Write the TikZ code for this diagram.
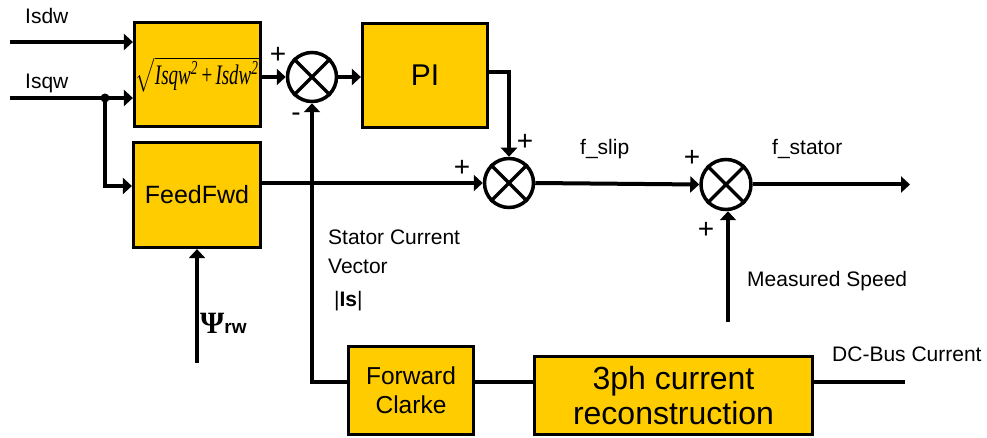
\documentclass[tikz,border=0pt]{standalone}
\usepackage{fontspec}
\usepackage{graphicx}
\setmainfont{Liberation Sans}
\newfontfamily\tms{Liberation Serif}
\usetikzlibrary{arrows.meta,calc}
\definecolor{boxyellow}{RGB}{255,204,0}
\tikzset{
  blk/.style={draw=black,fill=boxyellow,line width=3.2pt,inner sep=0pt,align=center},
  sumnode/.style={draw=black,fill=white,circle,line width=3.5pt,inner sep=0pt},
  arr/.style={line width=4pt,-{Triangle[length=9pt,width=16pt]}},
  thinwire/.style={line width=3.2pt},
  lbl/.style={inner sep=0pt,anchor=base west,font=\fontsize{21}{25}\selectfont},
  sgn/.style={inner sep=0pt,anchor=center,font=\fontsize{28}{30}\selectfont}
}
\newcommand{\crossit}[1]{\draw[line width=3.2pt] (#1.45) -- (#1.225) (#1.135) -- (#1.315);}
\begin{document}
\begin{tikzpicture}[x=1pt,y=-1pt]
\useasboundingbox[fill=white] (0,0) rectangle (987,438);
% blocks
\node[blk,minimum width=126pt,minimum height=104pt] (sq) at (197.5,74.5)
  {\raisebox{-3pt}{\resizebox{123pt}{28pt}{$\sqrt{\mbox{\tms\itshape Isqw\textsuperscript{2}\,\upshape+\,\itshape Isdw\textsuperscript{2}}}$}}};
\node[blk,minimum width=127pt,minimum height=105pt,font=\fontsize{25}{29}\selectfont] (ff) at (197,195) {FeedFwd};
\node[blk,minimum width=125pt,minimum height=104pt,font=\fontsize{30}{34}\selectfont] (pi) at (425,75.5) {PI};
\node[blk,minimum width=125pt,minimum height=88pt,font=\fontsize{24.5}{29}\selectfont] (cl) at (411,390.5) {Forward\\Clarke};
\node[blk,minimum width=278pt,minimum height=78pt,font=\fontsize{32}{35}\selectfont] (th) at (673.5,395.5) {3ph current\\reconstruction};
% summing junctions
\node[sumnode,minimum size=49pt] (s1) at (312,77) {};
\node[sumnode,minimum size=49pt] (s2) at (509,183) {};
\node[sumnode,minimum size=50pt] (s3) at (726,184.5) {};
\crossit{s1}\crossit{s2}\crossit{s3}
% free ends
\coordinate (isdw) at (10,42);
\coordinate (isqw) at (10,98);
\coordinate (dot) at (105,98);
\coordinate (psi) at (197,363);
\coordinate (ms) at (728,322);
\coordinate (out) at (910,184.5);
\coordinate (fbrow) at (300,382);
\coordinate (dc) at (905,382);
% connectors
\draw[arr] (isdw) -- (isdw -| sq.west);
\draw[arr] (isqw) -- (isqw -| sq.west);
\fill (dot) circle (4.5pt);
\draw[arr] (dot) |- ($(ff.west)+(0,-9)$);
\draw[arr] (sq.east |- s1.west) -- (s1.west);
\draw[arr] (s1.east) -- (pi.west |- s1.east);
\draw[arr] ($(pi.east)+(0,-3.5)$) -| (s2.north);
\draw[arr] (ff.east |- s2.west) -- (s2.west);
\draw[arr] (s2.east) -- (s3.west);
\draw[arr] (s3.east) -- (out);
\draw[arr] (ms) -- (ms |- s3.south);
\draw[arr] (psi) -- (ff.south);
\draw[arr] (cl.west |- fbrow) -| (s1.south);
\draw[thinwire] (cl.east |- fbrow) -- (th.west |- fbrow);
\draw[thinwire] (th.east |- fbrow) -- (dc);
% labels
\node[lbl] (lIsdw) at (25,24) {Isdw};
\node[lbl] (lIsqw) at (25,89) {Isqw};
\node[lbl] (lslip) at (580,155) {f\_slip};
\node[lbl] (lstat) at (772,155) {f\_stator};
\node[lbl] (lms) at (747,287) {Measured Speed};
\node[lbl] (ldc) at (832,361) {DC-Bus Current};
\node[lbl] (lsc) at (328,245) {Stator Current};
\node[lbl] (lvec) at (328,273) {Vector};
\node[lbl] (lis) at (334,306) {|{\bfseries Is}|};
\node[inner sep=0pt,anchor=base west] (lpsi) at (200,333)
  {{\tms\bfseries\fontsize{31}{32}\selectfont Ψ}{\bfseries\fontsize{19}{20}\selectfont rw}};
% signs
\node[sgn] (p1) at (278,55) {+};
\node[sgn] (m1) at (296,117) {-};
\node[sgn] (p2a) at (525,142) {+};
\node[sgn] (p2b) at (462,168) {+};
\node[sgn] (p3a) at (692,158) {+};
\node[sgn] (p3b) at (706,230) {+};
\end{tikzpicture}
\end{document}
